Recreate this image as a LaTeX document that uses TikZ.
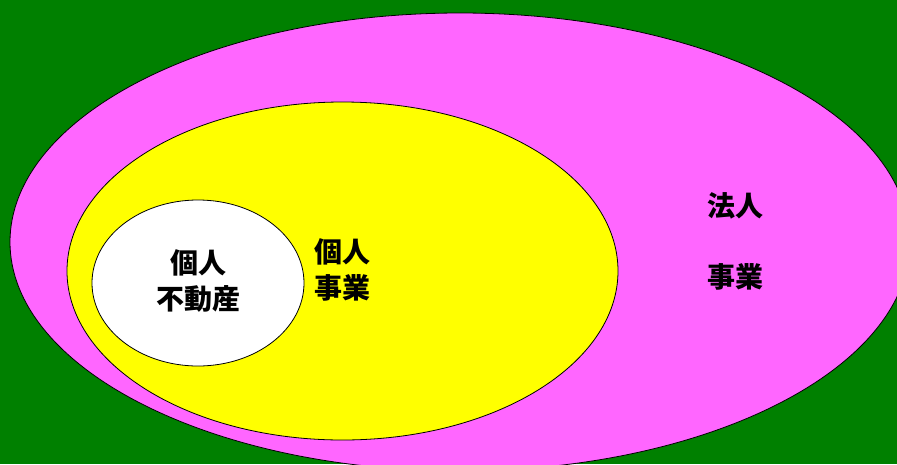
\documentclass[tikz,border=0pt]{standalone}
\usepackage{fontspec}
\newfontfamily\jpfont{Noto Sans CJK JP}
\usetikzlibrary{shapes.geometric}

\definecolor{bggreen}{HTML}{008000}
\definecolor{corpmagenta}{HTML}{FF66FF}
\definecolor{bizyellow}{HTML}{FFFF00}

\tikzset{
    area/.style={ellipse, draw=black, line width=0.8pt, inner sep=0pt},
    label/.style={font=\jpfont\bfseries\fontsize{28}{36}\selectfont, align=center, text=black}
}

\begin{document}
\begin{tikzpicture}[x=1pt,y=-1pt]
    % Background
    \useasboundingbox (0,0) rectangle (897,464);
    \fill[bggreen] (0,0) rectangle (897,464);

    % Draw the three nested areas
    \node[area, fill=corpmagenta, minimum width=900pt, minimum height=458pt] (corp) at (460,242) {};
    \node[area, fill=bizyellow, minimum width=551pt, minimum height=338pt] (biz) at (342.5,271) {};
    \node[area, fill=white, minimum width=212pt, minimum height=166pt] (realestate) at (198,283) {};

    % Add area labels
    \node[label] (realestatetext) at (198,281) {個人\\不動産};
    \node[label] (biztext) at (342.5,270) {個人\\事業};
    \node[label] (corptext1) at (735,206) {法人};
    \node[label] (corptext2) at (735,277) {事業};

\end{tikzpicture}
\end{document}
